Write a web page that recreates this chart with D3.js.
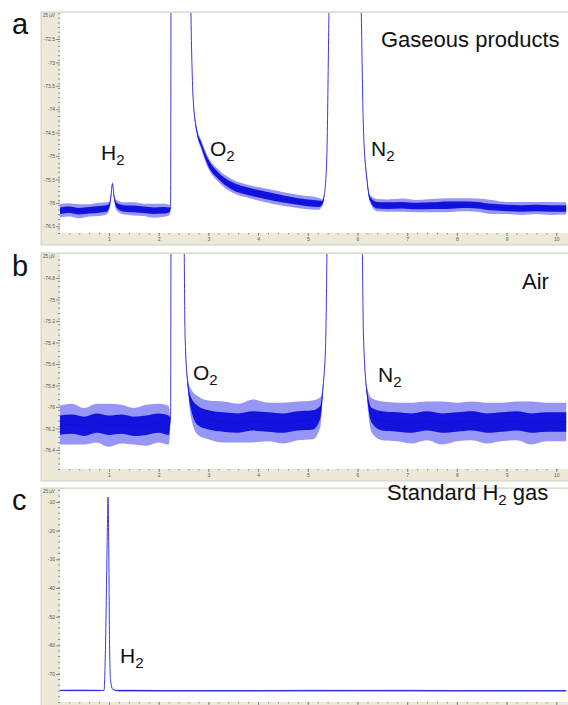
<!DOCTYPE html>
<html>
<head>
<meta charset="utf-8">
<script src="https://cdn.jsdelivr.net/npm/d3@7"></script>
<style>
  body { margin: 0; background: #fff; }
  svg { display: block; font-family: Arial, "Liberation Sans", sans-serif; }
  .tick text { font-size: 5px; fill: #555; }
  .tick line { stroke: #888; }
</style>
</head>
<body>
<script>
// retention time ticks (min)
const xTicks = [1, 2, 3, 4, 5, 6, 7, 8, 9, 10];

// panel a : gaseous products (signal, µV; core/spike = noise half widths)
const aTicks = [-72.5, -73, -73.5, -74, -74.5, -75, -75.5, -76, -76.5];
const aTime  = [0, 0.2, 0.4, 0.6, 0.8, 0.95, 1.01, 1.04, 1.07, 1.1, 1.15, 1.3, 1.5, 1.7, 1.9, 2.1, 2.22, 2.24, 2.25, 2.63, 2.66, 2.69, 2.76, 2.86, 2.99, 3.19, 3.46, 3.86, 4.33, 4.8, 5.21, 5.29, 5.33, 5.38, 5.45, 6.05, 6.12, 6.19, 6.25, 6.39, 6.6, 6.9, 7.2, 7.5, 7.8, 8.1, 8.4, 8.7, 9.0, 9.3, 9.6, 9.9, 10.2];
const aLevel = [-76.17, -76.15, -76.18, -76.16, -76.14, -76.12, -76.05, -75.85, -75.59, -75.85, -76.05, -76.12, -76.13, -76.15, -76.17, -76.16, -76.15, -76.1, -71, -71, -72.63, -73.7, -74.42, -74.77, -75.13, -75.41, -75.63, -75.77, -75.88, -75.97, -76.02, -76.0, -75.85, -75.13, -71, -71, -74.42, -75.49, -75.91, -76.05, -76.06, -76.05, -76.07, -76.06, -76.05, -76.04, -76.05, -76.09, -76.11, -76.12, -76.11, -76.12, -76.12];
const aCore  = [0.07, 0.07, 0.07, 0.07, 0.07, 0.07, 0.04, 0.02, 0.01, 0.02, 0.05, 0.07, 0.07, 0.07, 0.07, 0.07, 0.05, 0, 0, 0, 0, 0.01, 0.03, 0.05, 0.07, 0.07, 0.08, 0.08, 0.08, 0.07, 0.07, 0.04, 0.01, 0, 0, 0, 0, 0.02, 0.04, 0.07, 0.07, 0.07, 0.07, 0.07, 0.08, 0.07, 0.07, 0.07, 0.07, 0.07, 0.07, 0.07, 0.07];
const aSpike = [0.14, 0.14, 0.15, 0.13, 0.14, 0.13, 0.08, 0.05, 0.03, 0.05, 0.11, 0.13, 0.14, 0.13, 0.15, 0.14, 0.11, 0, 0, 0, 0, 0.03, 0.06, 0.1, 0.12, 0.13, 0.14, 0.14, 0.15, 0.14, 0.13, 0.08, 0.02, 0, 0, 0, 0, 0.04, 0.08, 0.13, 0.13, 0.14, 0.13, 0.14, 0.15, 0.14, 0.14, 0.15, 0.13, 0.14, 0.13, 0.14, 0.13];

// panel b : air
const bTicks = [-74.8, -75, -75.2, -75.4, -75.6, -75.8, -76, -76.2, -76.4];
const bTime  = [0, 0.25, 0.5, 0.75, 1.0, 1.25, 1.5, 1.75, 2.0, 2.2, 2.24, 2.25, 2.5, 2.53, 2.59, 2.66, 2.79, 3.0, 3.3, 3.6, 3.9, 4.2, 4.5, 4.8, 5.1, 5.25, 5.31, 5.36, 5.41, 6.08, 6.12, 6.19, 6.29, 6.5, 6.8, 7.1, 7.4, 7.7, 8.0, 8.3, 8.6, 8.9, 9.2, 9.5, 9.8, 10.2];
const bLevel = [-76.17, -76.16, -76.18, -76.15, -76.17, -76.16, -76.18, -76.17, -76.15, -76.17, -76.1, -74, -74, -75.33, -75.8, -75.98, -76.08, -76.12, -76.14, -76.15, -76.13, -76.14, -76.15, -76.13, -76.12, -76.05, -75.8, -75.4, -74, -74, -75.33, -75.86, -76.08, -76.13, -76.14, -76.15, -76.13, -76.15, -76.14, -76.13, -76.15, -76.14, -76.13, -76.15, -76.14, -76.14];
const bCore  = [0.09, 0.09, 0.09, 0.09, 0.09, 0.09, 0.09, 0.09, 0.09, 0.09, 0, 0, 0, 0, 0.02, 0.06, 0.09, 0.09, 0.09, 0.09, 0.09, 0.09, 0.09, 0.09, 0.09, 0.06, 0.01, 0, 0, 0, 0, 0.02, 0.07, 0.09, 0.09, 0.09, 0.09, 0.09, 0.09, 0.09, 0.09, 0.09, 0.09, 0.09, 0.09, 0.09];
const bSpike = [0.18, 0.19, 0.17, 0.18, 0.2, 0.18, 0.17, 0.19, 0.18, 0.18, 0, 0, 0, 0, 0.05, 0.14, 0.18, 0.18, 0.19, 0.18, 0.2, 0.18, 0.19, 0.18, 0.18, 0.14, 0.03, 0, 0, 0, 0, 0.05, 0.16, 0.18, 0.18, 0.19, 0.18, 0.2, 0.18, 0.18, 0.19, 0.18, 0.18, 0.2, 0.18, 0.18];

// panel c : standard H2 gas
const cTicks = [-10, -20, -30, -40, -50, -60, -70];
const cTime  = [0, 0.4, 0.8, 0.9, 0.93, 0.965, 0.98, 0.995, 1.01, 1.03, 1.08, 1.2, 2.0, 4.0, 6.0, 8.0, 10.2];
const cLevel = [-75.75, -75.72, -75.75, -75.7, -60, -22, -8.3, -25, -58, -72, -75.4, -75.8, -75.85, -75.85, -75.82, -75.85, -75.85];
const cCore  = [0.1, 0.1, 0.1, 0, 0, 0, 0, 0, 0, 0, 0, 0.1, 0.1, 0.1, 0.1, 0.1, 0.1];
const cSpike = [0.3, 0.3, 0.3, 0, 0, 0, 0, 0, 0, 0, 0, 0.3, 0.3, 0.3, 0.3, 0.3, 0.3];

const width = 568, height = 705;
const plotLeft = 60, plotRight = 568;

const svg = d3.select("body")
              .append("svg")
              .attr("width", width)
              .attr("height", height);

const xScale = d3.scaleLinear()
                 .domain([0, 10.2])
                 .range([59.3, 566.2]);

const panels = [
  { key: "a", top: 13, bottom: 233, domain: [-76.645, -71.944], ticks: aTicks, minor: 0.1, xLabels: true,
    time: aTime, level: aLevel, core: aCore, spike: aSpike, letterY: 34 },
  { key: "b", top: 254, bottom: 469, domain: [-76.577, -74.577], ticks: bTicks, minor: 0.05, xLabels: true,
    time: bTime, level: bLevel, core: bCore, spike: bSpike, letterY: 276 },
  { key: "c", top: 489, bottom: 702, domain: [-79.76, -5.47], ticks: cTicks, minor: 2, xLabels: false,
    time: cTime, level: cLevel, core: cCore, spike: cSpike, letterY: 510 }
];

// peak labels with subscripts
const labels = [
  { panel: "a", x: 101, y: 160, text: "H", sub: "2" },
  { panel: "a", x: 210, y: 155.5, text: "O", sub: "2" },
  { panel: "a", x: 371, y: 155.5, text: "N", sub: "2" },
  { panel: "b", x: 193, y: 380, text: "O", sub: "2" },
  { panel: "b", x: 378, y: 382, text: "N", sub: "2" },
  { panel: "c", x: 120, y: 663, text: "H", sub: "2" }
];

drawPanel = (p) => {
  const g = svg.append("g").attr("id", "panel-" + p.key);

  // window frame + plot area
  g.append("rect")
   .attr("x", 41).attr("y", p.top - 1)
   .attr("width", 540).attr("height", p.bottom - p.top + 13)
   .attr("fill", "#ece9d8")
   .attr("stroke", "#c8c6b8")
   .attr("stroke-width", 0.8);

  g.append("rect")
   .attr("x", plotLeft).attr("y", p.top)
   .attr("width", plotRight - plotLeft).attr("height", p.bottom - p.top)
   .attr("fill", "#fff");

  const yScale = d3.scaleLinear()
                   .domain(p.domain)
                   .range([p.bottom, p.top]);

  // y axis (major + minor)
  g.append("g")
   .attr("transform", "translate(" + plotLeft + ",0)")
   .call(d3.axisLeft(yScale).tickValues(d3.range(p.domain[0], p.domain[1], p.minor)).tickSize(2).tickFormat(""))
   .call(a => a.select(".domain").remove());

  g.append("g")
   .attr("transform", "translate(" + plotLeft + ",0)")
   .call(d3.axisLeft(yScale).tickValues(p.ticks).tickSize(4).tickPadding(1).tickFormat(d => String(d)))
   .call(a => a.select(".domain").remove());

  // x axis (major + minor)
  g.append("g")
   .attr("transform", "translate(0," + p.bottom + ")")
   .call(d3.axisBottom(xScale).tickValues(d3.range(0.2, 10.2, 0.2)).tickSize(1.5).tickFormat(""))
   .call(a => a.select(".domain").remove());

  g.append("g")
   .attr("transform", "translate(0," + p.bottom + ")")
   .call(d3.axisBottom(xScale).tickValues(xTicks).tickSize(3).tickPadding(1)
           .tickFormat(d => p.xLabels ? String(d) : ""))
   .call(a => a.select(".domain").remove());

  g.append("text")
   .attr("x", 43).attr("y", p.top + 4)
   .attr("font-size", 4.5)
   .attr("fill", "#555")
   .text("25 µV");

  // clip to plot area
  g.append("clipPath")
   .attr("id", "clip-" + p.key)
   .append("rect")
   .attr("x", plotLeft).attr("y", p.top)
   .attr("width", plotRight - plotLeft).attr("height", p.bottom - p.top);

  const rows = p.time.map((t, i) => ({ t: t, v: p.level[i], c: p.core[i], s: p.spike[i] }));

  const spikeArea = d3.area()
                      .x(d => xScale(d.t))
                      .y0(d => yScale(d.v - d.s))
                      .y1(d => yScale(d.v + d.s))
                      .curve(d3.curveMonotoneX);

  const coreArea = d3.area()
                     .x(d => xScale(d.t))
                     .y0(d => yScale(d.v - d.c))
                     .y1(d => yScale(d.v + d.c))
                     .curve(d3.curveMonotoneX);

  const line = d3.line()
                 .x(d => xScale(d.t))
                 .y(d => yScale(d.v))
                 .curve(d3.curveMonotoneX);

  const trace = g.append("g").attr("clip-path", "url(#clip-" + p.key + ")");

  // thin trace first, noise bands on top so no light stripe shows through
  trace.append("path")
       .datum(rows)
       .attr("d", line)
       .attr("fill", "none")
       .attr("stroke", "#3a3ae0")
       .attr("stroke-width", 1);

  trace.append("path")
       .datum(rows)
       .attr("d", spikeArea)
       .attr("fill", "#5050ee")
       .attr("opacity", 0.6);

  trace.append("path")
       .datum(rows)
       .attr("d", coreArea)
       .attr("fill", "#0c0cdc")
       .attr("opacity", 0.95);

  // panel letter
  svg.append("text")
     .attr("x", 12).attr("y", p.letterY)
     .attr("font-size", 29)
     .attr("fill", "#111")
     .text(p.key);
}

panels.forEach(drawPanel);

// peak labels
labels.forEach(l => {
  const t = svg.append("text")
               .attr("x", l.x).attr("y", l.y)
               .attr("font-size", 21)
               .attr("fill", "#111");
  t.append("tspan").text(l.text);
  t.append("tspan").attr("font-size", 15).attr("dy", 5).text(l.sub);
});

// sample titles
svg.append("text")
   .attr("x", 381).attr("y", 46.5)
   .attr("font-size", 22).attr("fill", "#111")
   .text("Gaseous products");

svg.append("text")
   .attr("x", 522).attr("y", 289)
   .attr("font-size", 22).attr("fill", "#111")
   .text("Air");

const std = svg.append("text")
               .attr("x", 387).attr("y", 500)
               .attr("font-size", 22).attr("fill", "#111");
std.append("tspan").text("Standard H");
std.append("tspan").attr("font-size", 15).attr("dy", 5).text("2");
std.append("tspan").attr("dy", -5).text(" gas");
</script>
</body>
</html>
